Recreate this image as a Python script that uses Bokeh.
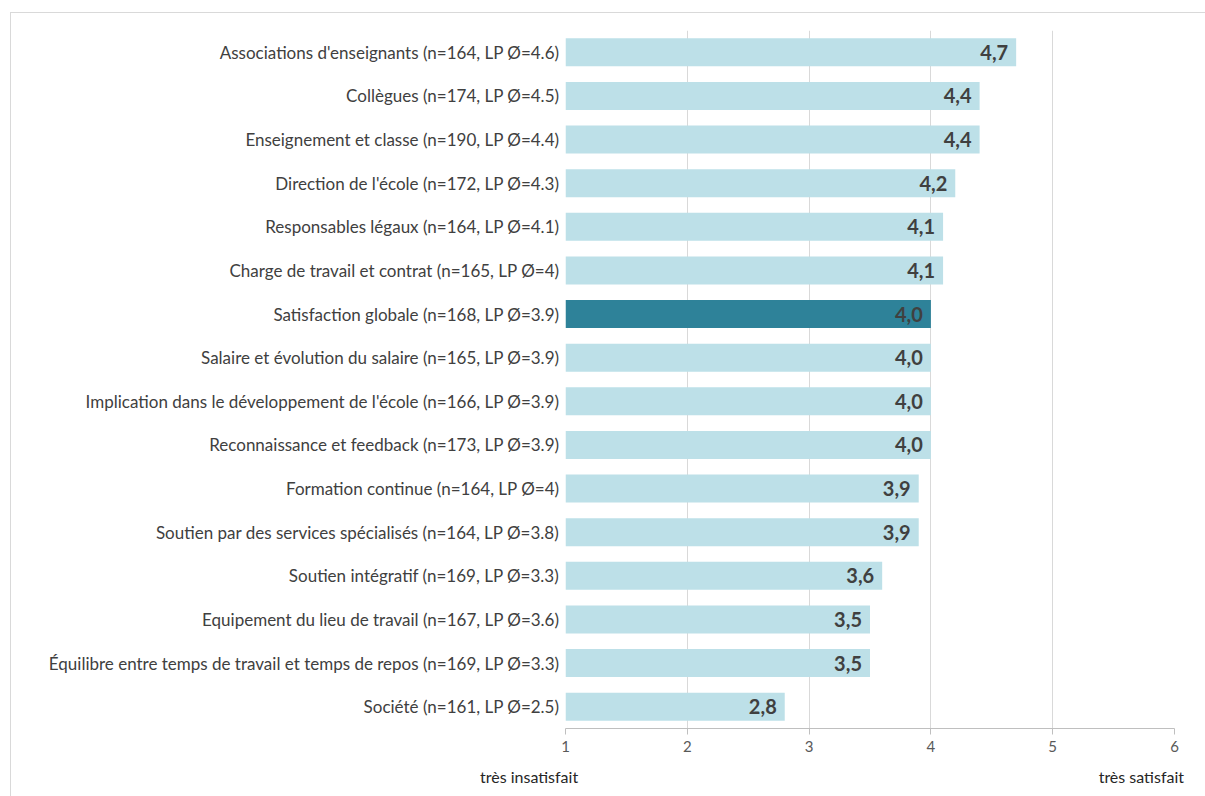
from bokeh.plotting import figure
from bokeh.models import ColumnDataSource, FactorRange, Range1d, FixedTicker, Div
from bokeh.layouts import column
from bokeh.core.properties import value
from bokeh.embed import file_html
from bokeh.resources import INLINE

categories = [
    "Associations d'enseignants (n=164, LP Ø=4.6)",
    "Collègues (n=174, LP Ø=4.5)",
    "Enseignement et classe (n=190, LP Ø=4.4)",
    "Direction de l'école (n=172, LP Ø=4.3)",
    "Responsables légaux (n=164, LP Ø=4.1)",
    "Charge de travail et contrat (n=165, LP Ø=4)",
    "Satisfaction globale (n=168, LP Ø=3.9)",
    "Salaire et évolution du salaire (n=165, LP Ø=3.9)",
    "Implication dans le développement de l'école (n=166, LP Ø=3.9)",
    "Reconnaissance et feedback (n=173, LP Ø=3.9)",
    "Formation continue (n=164, LP Ø=4)",
    "Soutien par des services spécialisés (n=164, LP Ø=3.8)",
    "Soutien intégratif (n=169, LP Ø=3.3)",
    "Equipement du lieu de travail (n=167, LP Ø=3.6)",
    "Équilibre entre temps de travail et temps de repos (n=169, LP Ø=3.3)",
    "Société (n=161, LP Ø=2.5)",
]
values = [4.7, 4.4, 4.4, 4.2, 4.1, 4.1, 4.0, 4.0, 4.0, 4.0, 3.9, 3.9, 3.6, 3.5, 3.5, 2.8]
highlight = "Satisfaction globale (n=168, LP Ø=3.9)"
x_ticks = [1, 2, 3, 4, 5, 6]
scale_low = "très insatisfait"
scale_high = "très satisfait"

LIGHT = "#BDE0E8"
DARK = "#2E8299"
FONT = "Lato"

colors = [DARK if c == highlight else LIGHT for c in categories]
labels = [f"{v:.1f}".replace(".", ",") for v in values]
src = ColumnDataSource(dict(cat=categories, val=values, color=colors, label=labels))

p = figure(
    width=1194, height=750,
    y_range=FactorRange(factors=list(reversed(categories)), range_padding=0),
    x_range=Range1d(x_ticks[0], x_ticks[-1]),
    output_backend="svg", toolbar_location=None,
    min_border_left=554, min_border_right=31, min_border_top=17, min_border_bottom=35,
)
p.background_fill_color = "white"
p.border_fill_color = "white"
p.outline_line_color = None

p.hbar(y="cat", left=x_ticks[0], right="val", height=0.64, fill_color="color",
       line_color=None, source=src)
p.text(x="val", y="cat", text="label", source=src, text_align="right", text_baseline="middle",
       x_offset=-8, text_font=value(FONT), text_font_style="bold", text_font_size="20px",
       text_color="#404040")

# grid
p.xgrid.ticker = FixedTicker(ticks=x_ticks)
p.xgrid.grid_line_color = "#D9D9D9"
p.xgrid.grid_line_width = 1
p.ygrid.grid_line_color = None

# x axis
xa = p.xaxis[0]
xa.ticker = FixedTicker(ticks=x_ticks)
xa.axis_line_color = "#BFBFBF"
xa.axis_line_width = 1
xa.major_tick_line_color = "#BFBFBF"
xa.major_tick_out = 6
xa.major_tick_in = 0
xa.minor_tick_line_color = None
xa.major_label_text_font = FONT
xa.major_label_text_font_size = "15px"
xa.major_label_text_color = "#595959"
xa.major_label_standoff = 6

# y axis
ya = p.yaxis[0]
ya.axis_line_color = None
ya.major_tick_line_color = None
ya.minor_tick_line_color = None
ya.major_tick_out = 0
ya.major_tick_in = 0
ya.major_label_standoff = 6
ya.major_label_text_font = FONT
ya.major_label_text_font_size = "17px"
ya.major_label_text_color = "#404040"

ends = Div(
    width=1194, height=33,
    text=(
        '<div style="position:relative;width:1194px;height:33px;font-family:Lato;'
        'font-size:16px;line-height:18px;color:#262626;">'
        f'<span style="position:absolute;left:464px;top:0px;">{scale_low}</span>'
        f'<span style="position:absolute;right:26px;top:0px;">{scale_high}</span>'
        '</div>'
    ),
)

layout = column(p, ends, spacing=0)
layout.styles = {"margin-left": "10px", "margin-top": "12px",
                 "border-top": "1px solid #D9D9D9", "border-left": "1px solid #D9D9D9",
                 "background-color": "white"}

open("out.html", "w").write(file_html(layout, INLINE))
